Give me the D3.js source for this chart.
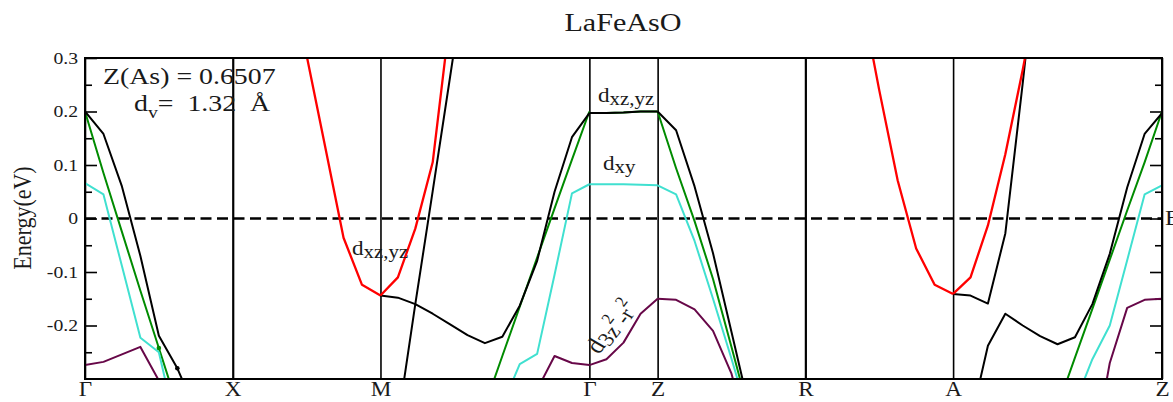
<!DOCTYPE html>
<html>
<head>
<meta charset="utf-8">
<script src="https://cdn.jsdelivr.net/npm/d3@7"></script>
<style>
  body { margin: 0; background: #fff; }
  svg { display: block; }
  text { font-family: "Liberation Serif", "Times New Roman", "DejaVu Serif", serif; fill: #1a1a1a; }
</style>
</head>
<body>
<svg id="chart" width="1173" height="402"></svg>
<script>
// ---- k-path: high-symmetry points of the tetragonal zone (path length in units of pi/a)
const pointLabels = ["Γ", "X", "M", "Γ", "Z", "R", "A", "Z"];
const kNodes      = [0, 1, 2, 3.414, 3.876, 4.876, 5.876, 7.290];
const segDivisions = [8, 8, 12, 4, 8, 8, 12];   // k-mesh intervals on each segment

// ---- energy axis
const yTicks      = [-0.2, -0.1, 0, 0.1, 0.2, 0.3];
const yTickLabels = ["-0.2", "-0.1", "0", "0.1", "0.2", "0.3"];
const yMinorTicks = [-0.25, -0.15, -0.05, 0.05, 0.15, 0.25];

// ---- band energies (eV) on the k-mesh of one segment, starting at mesh index `from`
// Γ–X
const bandBlack_GX  = [0.200, 0.158, 0.060, -0.070, -0.219, -0.280, -0.360];
const bandGreen_GX  = [0.200, 0.085, -0.025, -0.135, -0.242, -0.350];
const bandCyan_GX   = [0.066, 0.045, -0.089, -0.223, -0.250, -0.400];
const bandPurple_GX = [-0.274, -0.268, -0.254, -0.240, -0.303];
// X–M (from index 3)
const bandRed_XM    = [0.520, 0.305, 0.135, -0.036, -0.124, -0.144];
// M–Γ
const bandRed_MG     = [-0.144, -0.110, -0.019, 0.105, 0.377];
const bandBlackA_MG  = [-0.380, -0.160, 0.051, 0.265, 0.480];                  // from 1
const bandBlackB_MG  = [-0.144, -0.148, -0.160, -0.178, -0.198, -0.218, -0.233,
                        -0.221, -0.163, -0.079, 0.050, 0.152, 0.197];
const bandGreen_MG   = [-0.350, -0.257, -0.165, -0.073, 0.019, 0.110, 0.200];  // from 6
const bandCyan_MG    = [-0.350, -0.272, -0.253, -0.105, 0.047, 0.064];         // from 7
const bandPurple_MG  = [-0.320, -0.257, -0.270, -0.274];                       // from 9
// Γ–Z
const bandBlack_GZ  = [0.197, 0.197, 0.198, 0.200, 0.200];
const bandGreen_GZ  = [0.197, 0.197, 0.198, 0.200, 0.200];
const bandCyan_GZ   = [0.064, 0.064, 0.064, 0.063, 0.062];
const bandPurple_GZ = [-0.274, -0.263, -0.232, -0.178, -0.150];
// Z–R
const bandBlack_ZR  = [0.200, 0.165, 0.060, -0.065, -0.212, -0.360];
const bandGreen_ZR  = [0.200, 0.094, -0.005, -0.113, -0.240, -0.370];
const bandCyan_ZR   = [0.062, 0.045, -0.042, -0.150, -0.262, -0.380];
const bandPurple_ZR = [-0.150, -0.152, -0.170, -0.210, -0.290, -0.420];
// R–A (from index 3)
const bandRed_RA    = [0.420, 0.240, 0.071, -0.056, -0.124, -0.141];
// A–Z
const bandRed_AZ     = [-0.141, -0.110, -0.013, 0.120, 0.278, 0.450];
const bandBlackA_AZ  = [-0.141, -0.144, -0.159, -0.028, 0.253, 0.550];
const bandBlackB_AZ  = [-0.380, -0.238, -0.178, -0.200, -0.220, -0.235, -0.222,
                        -0.160, -0.066, 0.058, 0.158, 0.197];                   // from 1
const bandGreen_AZ   = [-0.352, -0.260, -0.169, -0.077, 0.015, 0.105, 0.200];  // from 6
const bandCyan_AZ    = [-0.345, -0.263, -0.200, -0.078, 0.045, 0.062];         // from 7
const bandPurple_AZ  = [-0.450, -0.270, -0.167, -0.152, -0.150];               // from 8

const colors = { black: "#000000", red: "#ff0000", green: "#008b00", cyan: "#40e0d0", purple: "#670748" };

// [energies, segment, first mesh index, colour] – drawn in this order
const pieces = [
  [bandGreen_GX, 0, 0, "green"], [bandGreen_MG, 2, 6, "green"], [bandGreen_GZ, 3, 0, "green"],
  [bandGreen_ZR, 4, 0, "green"], [bandGreen_AZ, 6, 6, "green"],
  [bandCyan_GX, 0, 0, "cyan"], [bandCyan_MG, 2, 7, "cyan"], [bandCyan_GZ, 3, 0, "cyan"],
  [bandCyan_ZR, 4, 0, "cyan"], [bandCyan_AZ, 6, 7, "cyan"],
  [bandPurple_GX, 0, 0, "purple"], [bandPurple_MG, 2, 9, "purple"], [bandPurple_GZ, 3, 0, "purple"],
  [bandPurple_ZR, 4, 0, "purple"], [bandPurple_AZ, 6, 8, "purple"],
  [bandBlack_GX, 0, 0, "black"], [bandBlackA_MG, 2, 1, "black"], [bandBlackB_MG, 2, 0, "black"],
  [bandBlack_GZ, 3, 0, "black"], [bandBlack_ZR, 4, 0, "black"],
  [bandBlackA_AZ, 6, 0, "black"], [bandBlackB_AZ, 6, 1, "black"],
  [bandRed_XM, 1, 3, "red"], [bandRed_MG, 2, 0, "red"], [bandRed_RA, 5, 3, "red"], [bandRed_AZ, 6, 0, "red"]
];

// small dots sitting on two mesh points of the Γ–X bands: [energies, segment, mesh index, colour]
const vertexDots = [[bandGreen_GX, 0, 4, "green"], [bandBlack_GX, 0, 5, "black"]];

// ---- layout
const plot = { left: 85, right: 1162, top: 58, bottom: 379 };
const SX = 1.16;   // horizontal glyph stretch of the figure's lettering

const svg = d3.select("#chart");
const x = d3.scaleLinear().domain([kNodes[0], kNodes[kNodes.length - 1]]).range([plot.left, plot.right]);
const y = d3.scaleLinear().domain([-0.3, 0.3]).range([plot.bottom, plot.top]);

function meshK(seg, i) {
  return kNodes[seg] + (kNodes[seg + 1] - kNodes[seg]) * i / segDivisions[seg];
}

svg.append("defs").append("clipPath").attr("id", "plotClip")
  .append("rect")
  .attr("x", plot.left).attr("y", plot.top)
  .attr("width", plot.right - plot.left).attr("height", plot.bottom - plot.top);

// ---- vertical lines at the high-symmetry points, with their labels
const xAxis = d3.axisBottom(x)
  .tickValues(kNodes)
  .tickSizeInner(-(plot.bottom - plot.top))
  .tickSizeOuter(0)
  .tickPadding(3)
  .tickFormat((d, i) => pointLabels[i]);
const gx = svg.append("g").attr("transform", `translate(0,${plot.bottom})`).call(xAxis);
gx.select(".domain").remove();
gx.selectAll(".tick line").attr("stroke", "#000").attr("stroke-width", (d, i) => (i === 1 || i === 5) ? 2.2 : 1.6);
gx.selectAll(".tick text")
  .attr("font-size", 20).attr("fill", "#1a1a1a")
  .attr("font-family", "Liberation Serif, Times New Roman, serif")
  .attr("transform", `scale(${SX},1)`);

// ---- energy ticks (left with labels, right without), pointing into the frame
function tickAxis(axisGen, xPos) {
  const g = svg.append("g").attr("transform", `translate(${xPos},0)`).call(axisGen);
  g.select(".domain").remove();
  g.selectAll(".tick line").attr("stroke", "#000").attr("stroke-width", 1.6);
  return g;
}
tickAxis(d3.axisLeft(y).tickValues(yMinorTicks).tickSize(-7).tickFormat(""), plot.left);
const gyl = tickAxis(d3.axisLeft(y).tickValues(yTicks).tickSize(-12).tickPadding(6)
  .tickFormat((d, i) => yTickLabels[i]), plot.left);
gyl.selectAll(".tick text")
  .attr("font-size", 17).attr("fill", "#1a1a1a")
  .attr("font-family", "Liberation Serif, Times New Roman, serif")
  .attr("transform", `scale(${SX},1)`);
tickAxis(d3.axisRight(y).tickValues(yMinorTicks).tickSize(-7).tickFormat(""), plot.right);
tickAxis(d3.axisRight(y).tickValues(yTicks).tickSize(-12).tickFormat(""), plot.right);

// ---- Fermi level
svg.append("line")
  .attr("x1", x(kNodes[0])).attr("x2", x(kNodes[kNodes.length - 1]))
  .attr("y1", y(0)).attr("y2", y(0))
  .attr("stroke", "#000").attr("stroke-width", 2.6)
  .attr("stroke-dasharray", "11,5.5");

// ---- bands
const line = d3.line().x(d => x(d[0])).y(d => y(d[1]));
const gBands = svg.append("g").attr("clip-path", "url(#plotClip)");
gBands.selectAll("path")
  .data(pieces)
  .join("path")
  .attr("d", ([e, seg, from]) => line(e.map((v, j) => [meshK(seg, from + j), v])))
  .attr("fill", "none")
  .attr("stroke", d => colors[d[3]])
  .attr("stroke-width", d => d[3] === "red" ? 2.3 : 2)
  .attr("stroke-linejoin", "round");
gBands.selectAll("circle")
  .data(vertexDots)
  .join("circle")
  .attr("cx", ([e, seg, i]) => x(meshK(seg, i)))
  .attr("cy", ([e, seg, i]) => y(e[i]))
  .attr("r", 2.3)
  .attr("fill", d => colors[d[3]]);

// ---- frame
svg.append("rect")
  .attr("x", plot.left).attr("y", plot.top)
  .attr("width", plot.right - plot.left).attr("height", plot.bottom - plot.top)
  .attr("fill", "none").attr("stroke", "#000").attr("stroke-width", 2);

// ---- text helpers: stretched lettering, optional rotation, tspans [text, size, dy]
function label(px, py, parts, opts = {}) {
  const rot = opts.rotate ? ` rotate(${opts.rotate})` : "";
  const g = svg.append("g").attr("transform", `translate(${px},${py}) scale(${SX},1)${rot}`);
  const t = g.append("text").attr("text-anchor", opts.anchor || "start")
    .style("white-space", "pre");
  parts.forEach(([str, size, dy]) => {
    t.append("tspan").attr("font-size", size).attr("dy", dy || 0).text(str);
  });
  return t;
}

label(623, 31, [["LaFeAsO", 26, 0]], { anchor: "middle" });
label(31, 218, [["Energy(eV)", 22, 0]], { anchor: "middle", rotate: -90 });

label(103, 84, [["Z(As) = 0.6507", 24, 0]]);
label(134, 111, [["d", 24, 0], ["v", 17, 7], ["=  1.32  Å", 24, -7]]);

label(352, 255, [["d", 20, 0], ["xz,yz", 18, 3]]);
label(598, 102, [["d", 20, 0], ["xz,yz", 18, 3]]);
label(603, 170, [["d", 20, 0], ["xy", 18, 3]]);
label(599, 355, [["d", 23, 0], ["3z", 20, 3], ["2", 15, -12], ["-r", 20, 12], ["2", 15, -12]], { rotate: -56 });

label(1165, 225, [["E", 21, 0], ["F", 15, 4]]);
</script>
</body>
</html>
